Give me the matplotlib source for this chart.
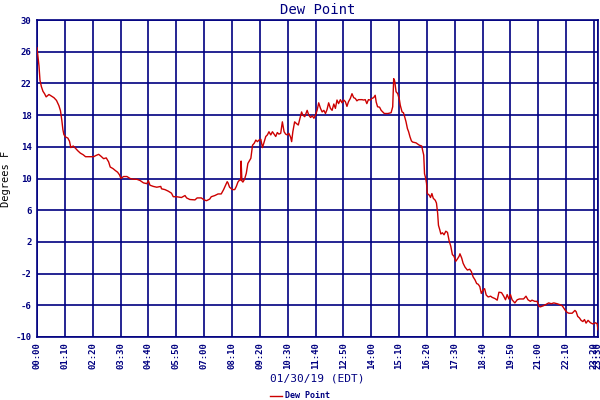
import matplotlib
matplotlib.use("Agg")
import matplotlib.pyplot as plt

# time in minutes after midnight, dew point in degrees F
minutes = [0, 2.5, 5, 7.5, 11, 15, 19, 23, 30, 36, 42.5, 49, 55, 59, 62.5, 65, 67.5, 71.5, 77.5, 81.7,
           85, 91, 97, 102.5, 109, 116, 122, 130, 138, 142.5, 148, 155, 161, 167.5, 174, 180, 184, 191,
           197, 202.5, 207.5, 211, 217.5, 226, 234, 242.5, 251, 259, 267.5, 276, 280, 284, 292.5, 301,
           311, 313, 321.5, 330, 338, 342.5, 351, 363, 372, 376, 384, 397, 402.5, 413, 420, 426, 434,
           438, 447, 455, 463, 469, 474, 478, 480, 484, 491, 497, 501, 505, 509, 512, 513, 515, 517.5,
           521.6, 526, 530, 533, 537.5, 541.7, 546, 550, 554, 558, 562.5, 566.7, 571, 575, 579, 583,
           587.5, 591.7, 596, 600, 604, 608, 612.5, 616.7, 621, 625, 629, 633, 637.5, 640, 643, 647.5,
           651.7, 656.7, 660, 665, 668, 673, 679, 683, 687.5, 692, 696, 700, 704, 708, 712.5, 716.7,
           721, 725, 729, 733, 737.5, 741.7, 746, 750, 754, 758, 762.5, 766.7, 771, 775, 779, 783,
           787.5, 791.7, 796, 800, 804, 808, 816.7, 821, 825, 829, 833, 837.5, 841.7, 846, 850, 852.5,
           856, 861, 865, 869, 873, 882, 890, 894, 896.5, 899, 902.5, 906.7, 911, 913, 917.5, 921, 924,
           927.5, 931, 934, 937.5, 941, 944, 952.5, 961, 967, 969, 972, 974, 977, 979, 981, 986, 989,
           992.5, 996, 1001, 1004, 1007, 1009, 1012.5, 1015, 1019, 1023, 1027.5, 1031.7, 1036, 1040,
           1044, 1048, 1052.5, 1056.7, 1061, 1063, 1067.5, 1071, 1076, 1081.7, 1087.5, 1091.7, 1096,
           1101, 1105, 1109, 1113, 1116.7, 1121, 1125, 1129, 1134, 1140, 1144, 1151, 1156.7, 1161,
           1167.5, 1173, 1177.5, 1181.7, 1186, 1190, 1194, 1201, 1207, 1212.5, 1219, 1223, 1229, 1234,
           1240, 1244, 1251, 1257, 1261, 1265, 1273, 1279, 1286, 1292.5, 1299, 1307, 1313, 1320, 1324,
           1328, 1332.5, 1336.7, 1345, 1352, 1355, 1359, 1363.5, 1367.5, 1372, 1376, 1380, 1385, 1391,
           1397, 1404, 1408, 1410]
dew_point = [26.5, 25.4, 24.2, 22.4, 21.6, 21.0, 20.7, 20.3, 20.6, 20.4, 20.2, 19.85, 19.2, 18.55, 17.3,
             16.2, 15.55, 15.25, 15.1, 14.7, 13.9, 14.1, 13.8, 13.5, 13.2, 13.0, 12.75, 12.75, 12.75,
             12.75, 12.9, 13.05, 12.8, 12.5, 12.6, 12.1, 11.45, 11.25, 11.0, 10.8, 10.45, 10.0, 10.25,
             10.25, 10.0, 9.9, 9.9, 9.75, 9.45, 9.35, 9.7, 9.15, 9.0, 8.9, 9.0, 8.7, 8.6, 8.4, 8.15,
             7.7, 7.7, 7.6, 7.85, 7.55, 7.35, 7.3, 7.55, 7.55, 7.3, 7.2, 7.4, 7.7, 7.85, 8.05, 8.05,
             8.6, 9.15, 9.6, 9.45, 8.9, 8.6, 8.6, 9.0, 9.55, 9.8, 9.8, 12.2, 9.7, 9.55, 9.9, 10.65,
             11.9, 12.15, 12.55, 14.2, 14.45, 14.85, 14.65, 14.85, 14.95, 13.9, 14.65, 15.3, 15.5,
             15.9, 15.5, 15.9, 15.6, 15.3, 15.8, 15.6, 15.7, 17.15, 15.9, 15.6, 15.5, 15.7, 15.2, 14.65,
             15.9, 17.15, 16.95, 16.75, 17.4, 18.4, 18.0, 17.8, 18.6, 18.0, 17.7, 17.9, 17.6, 18.0, 18.6,
             19.55, 18.85, 18.4, 18.6, 18.2, 18.7, 19.55, 18.85, 18.6, 19.4, 18.85, 19.9, 19.45, 19.95,
             19.55, 19.9, 19.7, 19.1, 19.7, 20.1, 20.7, 20.2, 20.1, 19.8, 19.95, 19.95, 19.9, 19.95,
             19.45, 19.95, 19.9, 20.1, 20.2, 20.5, 19.65, 19.05, 19.0, 18.6, 18.4, 18.2, 18.2, 18.3,
             19.05, 22.6, 22.3, 20.95, 20.7, 19.9, 19.25, 18.4, 18.3, 17.8, 17.15, 16.3, 15.9, 15.25,
             14.75, 14.6, 14.5, 14.2, 14.1, 13.6, 12.95, 10.6, 10.0, 9.4, 8.1, 7.9, 7.6, 8.1, 7.5, 7.25,
             6.9, 5.6, 4.1, 3.5, 3.0, 3.15, 2.9, 3.35, 3.2, 2.1, 1.45, 0.4, 0.2, -0.45, -0.15, 0.2, 0.5,
             -0.05, -0.7, -1.2, -1.55, -1.45, -1.75, -2.4, -2.8, -3.25, -3.35, -3.65, -4.5, -4.1, -3.9,
             -4.7, -4.95, -4.85, -5.0, -5.15, -5.35, -4.35, -4.4, -4.85, -5.3, -4.65, -5.2, -4.65, -5.3,
             -5.7, -5.3, -5.2, -5.2, -5.2, -4.85, -5.3, -5.5, -5.35, -5.5, -5.5, -6.1, -6.2, -6.05,
             -5.9, -5.7, -5.8, -5.7, -5.8, -5.9, -6.05, -6.35, -6.65, -6.9, -7.0, -7.0, -6.65, -6.8,
             -7.4, -7.6, -7.9, -8.05, -7.8, -8.25, -7.9, -8.2, -8.35, -8.2, -8.35, -9.1]

x_ticks = [0, 70, 140, 210, 280, 350, 420, 490, 560, 630, 700, 770, 840, 910, 980, 1050, 1120, 1190,
           1260, 1330, 1400, 1410]
x_labels = ["00:00", "01:10", "02:20", "03:30", "04:40", "05:50", "07:00", "08:10", "09:20", "10:30",
            "11:40", "12:50", "14:00", "15:10", "16:20", "17:30", "18:40", "19:50", "21:00", "22:10",
            "23:20", "23:30"]
y_ticks = [-10, -6, -2, 2, 6, 10, 14, 18, 22, 26, 30]

navy = "#000080"
red = "#cc0000"
mono = "DejaVu Sans Mono"

fig = plt.figure(figsize=(6, 4), dpi=100)
ax = fig.add_axes([37 / 600, 1 - 337 / 400, (598 - 37) / 600, (337 - 20) / 400])

ax.plot(minutes, dew_point, color=red, linewidth=1.0, label="Dew Point", zorder=3)

ax.set_xlim(0, 1410)
ax.set_ylim(-10, 30)
ax.set_xticks(x_ticks)
ax.set_xticklabels(x_labels, rotation=90, fontsize=6.5, family=mono, fontweight="bold", color=navy)
ax.set_yticks(y_ticks)
ax.set_yticklabels([str(v) for v in y_ticks], fontsize=6.5, family=mono, fontweight="bold", color=navy)
ax.tick_params(length=0, pad=4)
ax.grid(True, color=navy, linewidth=1.2)
ax.set_axisbelow(True)
for s in ax.spines.values():
    s.set_color(navy)
    s.set_linewidth(1.2)

ax.set_title("Dew Point", family=mono, fontsize=10, color=navy, pad=4)
ax.set_xlabel("01/30/19 (EDT)", family=mono, fontsize=8, color=navy, labelpad=3)
ax.set_ylabel("Degrees F", family=mono, fontsize=7.5, color="black", labelpad=3)

fig.legend(loc="lower center", bbox_to_anchor=(0.5, -0.02), frameon=False,
           prop={"family": mono, "size": 6, "weight": "bold"}, labelcolor=navy,
           handlelength=1.5, handletextpad=0.4)

fig.savefig("out.png", dpi=100)
